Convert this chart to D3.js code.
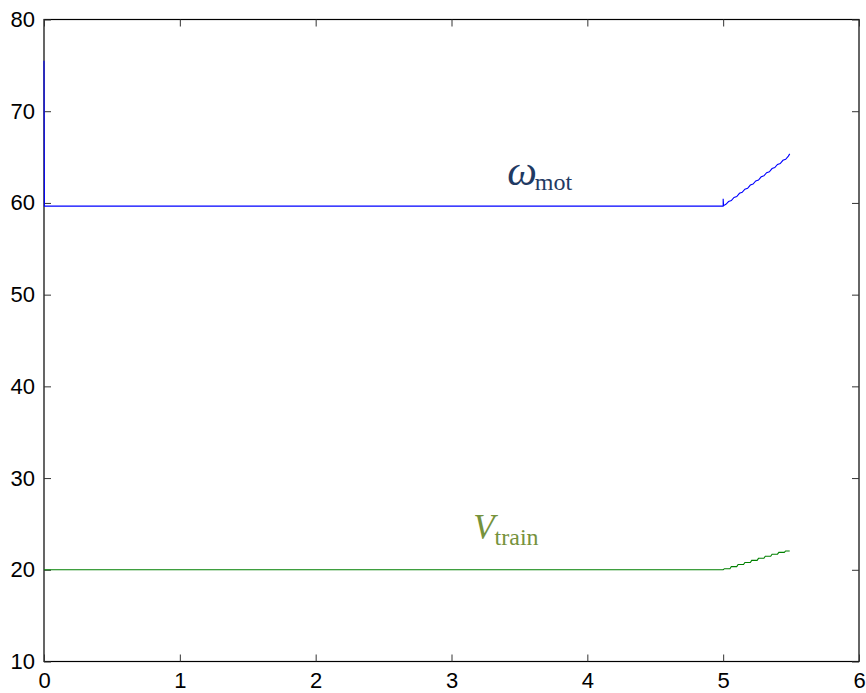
<!DOCTYPE html>
<html>
<head>
<meta charset="utf-8">
<script src="https://cdn.jsdelivr.net/npm/d3@7"></script>
<style>
  html, body { margin: 0; padding: 0; background: #fff; }
  svg { display: block; }
  .tick text { font-family: Arial, "Liberation Sans", sans-serif; }
</style>
</head>
<body>
<svg id="chart" width="866" height="693"></svg>
<script>
// Axis ranges and tick labels
const xTicks = [0, 1, 2, 3, 4, 5, 6];
const yTicks = [10, 20, 30, 40, 50, 60, 70, 80];

// Motor speed (time, value)
const omegaTime  = [0, 0.003, 5.0, 5.0, 5.003, 5.02, 5.04, 5.06, 5.08, 5.10, 5.12, 5.14, 5.16, 5.18, 5.20, 5.22, 5.24, 5.26, 5.28, 5.30, 5.32, 5.34, 5.36, 5.38, 5.40, 5.42, 5.44, 5.46, 5.48, 5.49];
const omegaValue = [75.5, 59.65, 59.65, 60.45, 59.7, 59.85, 60.15, 60.25, 60.6, 60.7, 61.05, 61.15, 61.5, 61.6, 61.95, 62.05, 62.4, 62.5, 62.85, 62.95, 63.3, 63.4, 63.75, 63.85, 64.2, 64.3, 64.65, 64.75, 65.1, 65.35];

// Train speed (time, value)
const trainTime  = [0, 5.0, 5.01, 5.05, 5.06, 5.10, 5.11, 5.15, 5.16, 5.20, 5.21, 5.25, 5.26, 5.30, 5.31, 5.35, 5.36, 5.40, 5.41, 5.45, 5.46, 5.49];
const trainValue = [20.0, 20.0, 20.12, 20.12, 20.35, 20.35, 20.58, 20.58, 20.8, 20.8, 21.03, 21.03, 21.25, 21.25, 21.48, 21.48, 21.7, 21.7, 21.9, 21.9, 22.05, 22.05];

const svg = d3.select("#chart");
const margin = { left: 44, right: 7, top: 19.5, bottom: 31.5 };
const W = 866, H = 693;

const x = d3.scaleLinear().domain([0, 6]).range([margin.left, W - margin.right]);
const y = d3.scaleLinear().domain([10, 80]).range([H - margin.bottom, margin.top]);

const tickLen = 7;
const fontSize = 22;

// frame
svg.append("rect")
  .attr("x", x(0)).attr("y", y(80))
  .attr("width", x(6) - x(0)).attr("height", y(10) - y(80))
  .attr("fill", "none").attr("stroke", "#000").attr("stroke-width", 1.2);

// bottom axis (ticks point inward)
const axisB = svg.append("g")
  .attr("transform", `translate(0,${y(10)})`)
  .call(d3.axisBottom(x).tickValues(xTicks).tickSize(-tickLen).tickPadding(11).tickFormat(d3.format("d")));
// top axis mirrored ticks
const axisT = svg.append("g")
  .attr("transform", `translate(0,${y(80)})`)
  .call(d3.axisTop(x).tickValues(xTicks).tickSize(-tickLen).tickFormat(""));
// left axis
const axisL = svg.append("g")
  .attr("transform", `translate(${x(0)},0)`)
  .call(d3.axisLeft(y).tickValues(yTicks).tickSize(-tickLen).tickPadding(9).tickFormat(d3.format("d")));
// right axis mirrored ticks
const axisR = svg.append("g")
  .attr("transform", `translate(${x(6)},0)`)
  .call(d3.axisRight(y).tickValues(yTicks).tickSize(-tickLen).tickFormat(""));

[axisB, axisT, axisL, axisR].forEach(g => {
  g.select(".domain").remove();
  g.selectAll(".tick line").attr("stroke", "#333").attr("stroke-width", 1);
  g.selectAll(".tick text").attr("font-size", fontSize).attr("fill", "#000");
});

// series
const line = d3.line().x(d => x(d[0])).y(d => y(d[1]));
const omegaData = omegaTime.map((t, i) => [t, omegaValue[i]]);
const trainData = trainTime.map((t, i) => [t, trainValue[i]]);

svg.append("path").datum(omegaData)
  .attr("d", line).attr("fill", "none")
  .attr("stroke", "#0000ff").attr("stroke-width", 1.1);

svg.append("path").datum(trainData)
  .attr("d", line).attr("fill", "none")
  .attr("stroke", "#008000").attr("stroke-width", 1.1);

// series labels
const omegaLabel = svg.append("text")
  .attr("x", x(3.41)).attr("y", y(61.95))
  .attr("font-family", "'Liberation Serif', 'Times New Roman', serif")
  .attr("fill", "#1f3a63");
omegaLabel.append("tspan").attr("font-style", "italic").attr("font-size", 42).text("ω");
omegaLabel.append("tspan").attr("font-size", 24).attr("dx", -2).attr("dy", 5).text("mot");

const trainLabel = svg.append("text")
  .attr("x", x(3.16)).attr("y", y(23.4))
  .attr("font-family", "'Liberation Serif', 'Times New Roman', serif")
  .attr("fill", "#76923c");
trainLabel.append("tspan").attr("font-style", "italic").attr("font-size", 35).text("V");
trainLabel.append("tspan").attr("font-size", 24).attr("dy", 6).text("train");
</script>
</body>
</html>
